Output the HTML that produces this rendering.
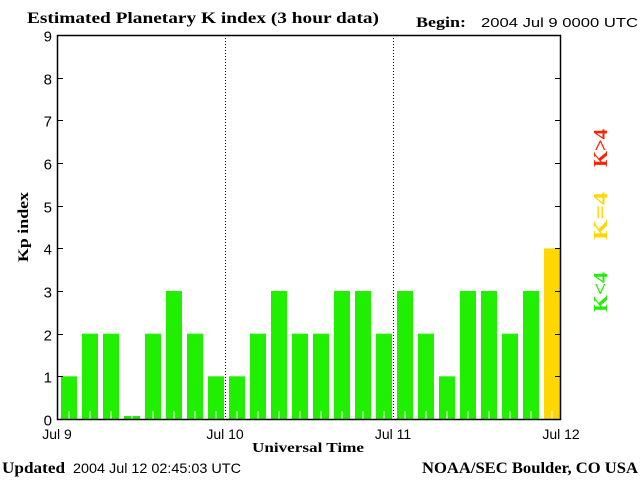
<!DOCTYPE html>
<html><head><meta charset="utf-8"><style>
body{margin:0;background:#fff;}
svg{display:block;}
.ser{font-family:"Liberation Serif",serif;font-weight:bold;}
.san{font-family:"Liberation Sans",sans-serif;}
</style></head><body>
<svg id="c" width="640" height="480" viewBox="0 0 640 480">
<text x="27" y="23" class="ser" font-size="16" textLength="352" lengthAdjust="spacingAndGlyphs">Estimated Planetary K index (3 hour data)</text>
<text x="416" y="27" class="ser" font-size="15" textLength="50" lengthAdjust="spacingAndGlyphs">Begin:</text>
<text x="481" y="27" class="san" font-size="13" textLength="157" lengthAdjust="spacingAndGlyphs">2004 Jul 9 0000 UTC</text>
<g id="plot"></g>
<text x="28" y="227" class="ser" font-size="15" transform="rotate(-90 28 227)" text-anchor="middle" textLength="70" lengthAdjust="spacingAndGlyphs">Kp index</text>
<text x="308" y="452" class="ser" font-size="14" text-anchor="middle" textLength="112" lengthAdjust="spacingAndGlyphs">Universal Time</text>
<text x="2" y="473" class="ser" font-size="16" textLength="63" lengthAdjust="spacingAndGlyphs">Updated</text>
<text x="73" y="473" class="san" font-size="14" textLength="168" lengthAdjust="spacingAndGlyphs">2004 Jul 12 02:45:03 UTC</text>
<text x="422" y="473" class="ser" font-size="16" textLength="216" lengthAdjust="spacingAndGlyphs">NOAA/SEC Boulder, CO USA</text>
<text x="607" y="148" class="ser" font-size="20" fill="#ff2000" text-anchor="middle" textLength="38" lengthAdjust="spacingAndGlyphs" transform="rotate(-90 607 148)">K&gt;4</text>
<text x="607" y="216" class="ser" font-size="20" fill="#ffd700" text-anchor="middle" textLength="48" lengthAdjust="spacingAndGlyphs" transform="rotate(-90 607 216)">K=4</text>
<text x="607" y="292" class="ser" font-size="20" fill="#20f000" text-anchor="middle" textLength="40" lengthAdjust="spacingAndGlyphs" transform="rotate(-90 607 292)">K&lt;4</text>
</svg>
<script>
const kpValues=[1,2,2,0,2,3,2,1,1,2,3,2,2,3,3,2,3,2,1,3,3,2,3,4];
const yTicks=[0,1,2,3,4,5,6,7,8,9];
const dayLabels=["Jul 9","Jul 10","Jul 11","Jul 12"];
const NS="http://www.w3.org/2000/svg";
const L=57,R=561,T=35,B=419;
const slot=(R-L)/kpValues.length;
function x(i){return L+i*slot;}
function y(v){return B-(B-T)*v/9;}
const g=document.getElementById('plot');
function mk(t,a){const e=document.createElementNS(NS,t);for(const k in a)e.setAttribute(k,a[k]);g.appendChild(e);return e;}
kpValues.forEach((v,i)=>{
  const top=Math.min(y(v),B-3);
  const col=v>4?'#ff2000':(v==4?'#ffd700':'#20f000');
  const r=mk('rect',{x:x(i)+4,y:top,width:16,height:B-top,fill:col});
  
  
  const t=mk('line',{x1:x(i)+12,x2:x(i)+12,y1:B-8,y2:B,stroke:'#fff','stroke-width':1});
  
  
});
for(let d=1;d<dayLabels.length-1;d++){
  const xx=Math.round(x(d*8))+0.5;
  const l=mk('line',{x1:xx,x2:xx,y1:T,y2:B,stroke:'#000','stroke-dasharray':'1,2'});
  
  
}
yTicks.forEach(v=>{
  const yy=Math.round(y(v))+0.5;
  const a=mk('line',{x1:L,x2:L+6,y1:yy,y2:yy,stroke:'#000'});
  
  
  const b=mk('line',{x1:R-6,x2:R,y1:yy,y2:yy,stroke:'#000'});
  
  
  const t=mk('text',{x:L-5,y:yy+6,'text-anchor':'end','font-size':15,'font-family':'"Liberation Sans",sans-serif'});
  t.textContent=v;
  
  
});
dayLabels.forEach((s,d)=>{
  const t=mk('text',{x:x(d*8),y:439,'text-anchor':'middle','font-size':14,'font-family':'"Liberation Sans",sans-serif'});
  t.textContent=s;
  
  
});
const f=mk('rect',{x:L+0.5,y:T+0.5,width:R-L-1,height:B-T,fill:'none',stroke:'#000','stroke-width':1.5});


</script>
</body></html>
